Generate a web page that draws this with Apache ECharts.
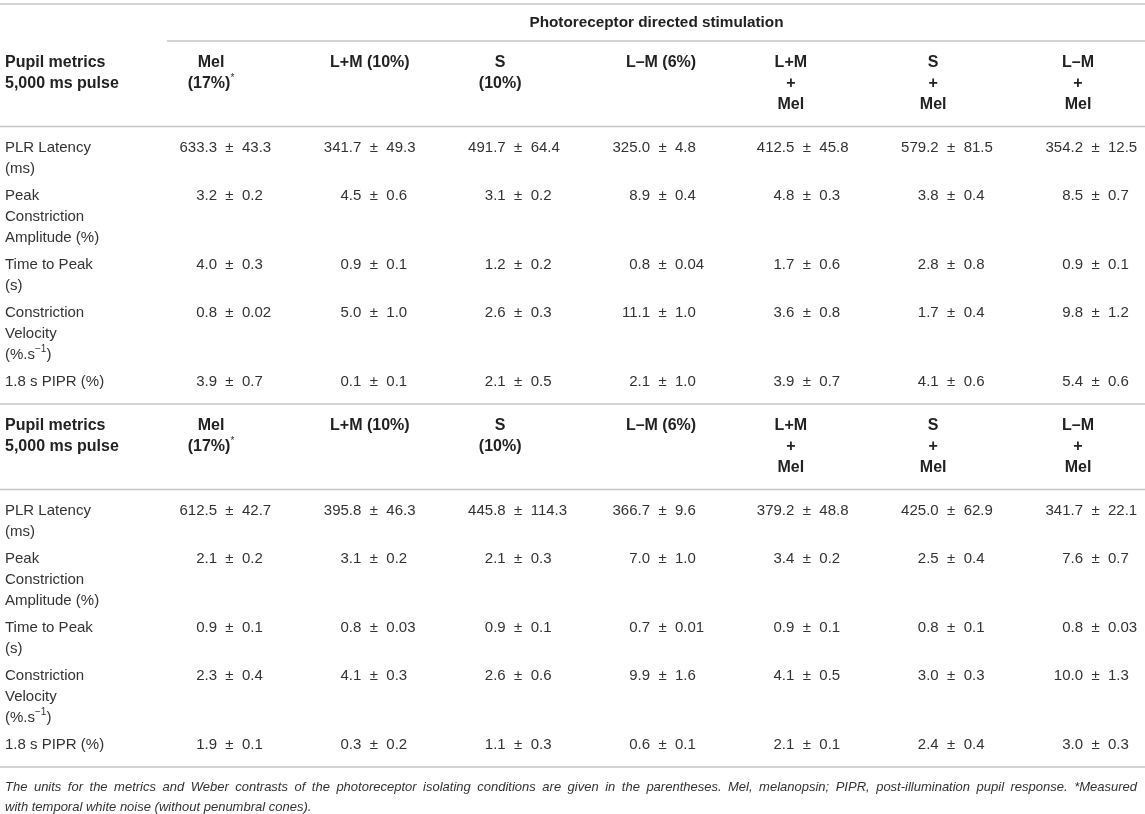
<!DOCTYPE html>
<html>
<head>
<meta charset="utf-8">
<script src="https://cdn.jsdelivr.net/npm/echarts@6/dist/echarts.min.js"></script>
<style>
    html, body { margin: 0; padding: 0; background: #fff; }
    #chart { width: 1145px; height: 814px; }
</style>
</head>
<body>
<div id="chart"></div>
<script>
const spanTitle = 'Photoreceptor directed stimulation';
const cornerHead = ['Pupil metrics', '5,000 ms pulse'];
const conditionHeads = [
    ['Mel', '(17%){sup|*}'],
    ['L+M (10%)'],
    ['S', '(10%)'],
    ['L–M (6%)'],
    ['L+M', '+', 'Mel'],
    ['S', '+', 'Mel'],
    ['L–M', '+', 'Mel'],
];
const metricNames = [
    ['PLR Latency', '(ms)'],
    ['Peak', 'Constriction', 'Amplitude (%)'],
    ['Time to Peak', '(s)'],
    ['Constriction', 'Velocity', '(%.s{sup|−1})'],
    ['1.8 s PIPR (%)'],
];

// first block: mean and sem per metric row, one entry per condition
const meansA = [
    ['633.3', '341.7', '491.7', '325.0', '412.5', '579.2', '354.2'],
    ['3.2', '4.5', '3.1', '8.9', '4.8', '3.8', '8.5'],
    ['4.0', '0.9', '1.2', '0.8', '1.7', '2.8', '0.9'],
    ['0.8', '5.0', '2.6', '11.1', '3.6', '1.7', '9.8'],
    ['3.9', '0.1', '2.1', '2.1', '3.9', '4.1', '5.4'],
];
const semsA = [
    ['43.3', '49.3', '64.4', '4.8', '45.8', '81.5', '12.5'],
    ['0.2', '0.6', '0.2', '0.4', '0.3', '0.4', '0.7'],
    ['0.3', '0.1', '0.2', '0.04', '0.6', '0.8', '0.1'],
    ['0.02', '1.0', '0.3', '1.0', '0.8', '0.4', '1.2'],
    ['0.7', '0.1', '0.5', '1.0', '0.7', '0.6', '0.6'],
];

// second block
const meansB = [
    ['612.5', '395.8', '445.8', '366.7', '379.2', '425.0', '341.7'],
    ['2.1', '3.1', '2.1', '7.0', '3.4', '2.5', '7.6'],
    ['0.9', '0.8', '0.9', '0.7', '0.9', '0.8', '0.8'],
    ['2.3', '4.1', '2.6', '9.9', '4.1', '3.0', '10.0'],
    ['1.9', '0.3', '1.1', '0.6', '2.1', '2.4', '3.0'],
];
const semsB = [
    ['42.7', '46.3', '114.3', '9.6', '48.8', '62.9', '22.1'],
    ['0.2', '0.2', '0.3', '1.0', '0.2', '0.4', '0.7'],
    ['0.1', '0.03', '0.1', '0.01', '0.1', '0.1', '0.03'],
    ['0.4', '0.3', '0.6', '1.6', '0.5', '0.3', '1.3'],
    ['0.1', '0.2', '0.3', '0.1', '0.1', '0.4', '0.3'],
];

const footnote = [
    'The units for the metrics and Weber contrasts of the photoreceptor isolating conditions are given in the parentheses. Mel, melanopsin; PIPR, post-illumination pupil response. *Measured',
    'with temporal white noise (without penumbral cones).',
];

// layout
const FONT = '"Liberation Sans", Arial, Helvetica, sans-serif';
const LINE = 21;
const ROW_GAP = 6;
const AFTER_RULE = 21.5;
const BEFORE_RULE = 22;
const COL_MIN = -0.59;
const COL_MAX = 7.343;
const LABEL_X = 5;
const PM_GAP = 12.5;
const NOTE_W = 1132;
const NOTE_SIZE = 13;
const headShift = [-18.5, -4, -18, -1.5, -16, -18, -17.5];

const RICH = {
    sup: { fontSize: 10, fontFamily: FONT, verticalAlign: 'top', fill: '#333' },
};

const cells = [];
const rules = [];
let y = 4;
rules.push({ col: COL_MIN, dx: 0, y });
cells.push({ kind: 'title', col: 4, dx: -6, y: 23, lines: [spanTitle] });
y = 41;
rules.push({ col: 1, dx: -62.5, y });

const addBlock = (means, sems) => {
    y += AFTER_RULE;
    cells.push({ kind: 'label', col: COL_MIN, dx: LABEL_X, y, lines: cornerHead, bold: true });
    conditionHeads.forEach((h, i) => {
        cells.push({ kind: 'head', col: i + 1, dx: headShift[i], y, lines: h, bold: true });
    });
    const headLines = Math.max(...conditionHeads.map(h => h.length));
    y += (headLines - 1) * LINE + BEFORE_RULE;
    rules.push({ col: COL_MIN, dx: 0, y });
    y += AFTER_RULE;
    metricNames.forEach((name, r) => {
        cells.push({ kind: 'label', col: COL_MIN, dx: LABEL_X, y, lines: name });
        means[r].forEach((m, c) => {
            cells.push({ kind: 'value', col: c + 1, dx: 0, y, mean: m, sem: sems[r][c] });
        });
        if (r < metricNames.length - 1) y += name.length * LINE + ROW_GAP;
    });
    y += BEFORE_RULE;
    rules.push({ col: COL_MIN, dx: 0, y });
};
addBlock(meansA, semsA);
addBlock(meansB, semsB);
cells.push({ kind: 'note', col: COL_MIN, dx: LABEL_X, y: y + 20, lines: footnote });

const text = (x, ty, str, o = {}) => ({
    type: 'text',
    x,
    y: ty,
    style: {
        text: str,
        fill: o.bold ? '#222' : '#333',
        fontSize: o.size || 15,
        fontFamily: FONT,
        fontWeight: o.bold ? 'bold' : 'normal',
        fontStyle: o.italic ? 'italic' : 'normal',
        align: o.align || 'left',
        textAlign: o.align || 'left',
        verticalAlign: 'middle',
        textVerticalAlign: 'middle',
        lineHeight: o.lineHeight || LINE,
        rich: RICH,
    },
});

// justified footnote lines (all but the last), like the printed caption
const measureCtx = document.createElement('canvas').getContext('2d');
const justifyLine = (x, ty, line) => {
    measureCtx.font = `italic ${NOTE_SIZE}px ${FONT}`;
    const words = line.split(' ');
    const widths = words.map(w => measureCtx.measureText(w).width);
    const used = widths.reduce((a, b) => a + b, 0);
    const gap = (NOTE_W - used) / (words.length - 1);
    let cx = x;
    return words.map((w, i) => {
        const el = text(cx, ty, w, { italic: true, size: NOTE_SIZE });
        cx += widths[i] + gap;
        return el;
    });
};

const renderCell = (params, api) => {
    const cell = cells[params.dataIndex];
    const p = api.coord([api.value(0), api.value(1)]);
    const x = p[0] + (cell.dx || 0);
    if (cell.kind === 'value') {
        return {
            type: 'group',
            children: [
                text(x - PM_GAP, p[1], cell.mean, { align: 'right' }),
                text(x, p[1], '±', { align: 'center' }),
                text(x + PM_GAP, p[1], cell.sem, { align: 'left' }),
            ],
        };
    }
    if (cell.kind === 'note') {
        const children = [];
        cell.lines.forEach((line, i) => {
            const ly = p[1] + i * 20;
            if (i < cell.lines.length - 1) children.push(...justifyLine(x, ly, line));
            else children.push(text(x, ly, line, { italic: true, size: NOTE_SIZE }));
        });
        return { type: 'group', children };
    }
    const n = cell.lines.length;
    if (cell.kind === 'title') {
        return text(x, p[1], cell.lines[0], { align: 'center', bold: true, size: 15.3 });
    }
    const align = cell.kind === 'label' ? 'left' : 'center';
    return text(x, p[1] + (n - 1) * LINE / 2, cell.lines.join('\n'), {
        align,
        bold: cell.bold,
        size: cell.bold ? 16 : 15,
    });
};

const renderRule = (params, api) => {
    const r = rules[params.dataIndex];
    const p = api.coord([api.value(0), api.value(1)]);
    return {
        type: 'line',
        shape: { x1: p[0] + r.dx, y1: p[1], x2: api.getWidth(), y2: p[1] },
        style: { stroke: '#c4c4c4', lineWidth: 1.6 },
    };
};

const chart = echarts.init(document.getElementById('chart'));
chart.setOption({
    animation: false,
    grid: { left: 0, right: 0, top: 0, bottom: 0 },
    xAxis: { type: 'value', min: COL_MIN, max: COL_MAX, show: false },
    yAxis: { type: 'value', min: 0, max: 814, inverse: true, show: false },
    series: [
        {
            type: 'custom',
            silent: true,
            clip: false,
            renderItem: renderRule,
            data: rules.map(r => [r.col, r.y]),
        },
        {
            type: 'custom',
            silent: true,
            clip: false,
            renderItem: renderCell,
            data: cells.map(c => [c.col, c.y]),
        },
    ],
});
</script>
</body>
</html>
